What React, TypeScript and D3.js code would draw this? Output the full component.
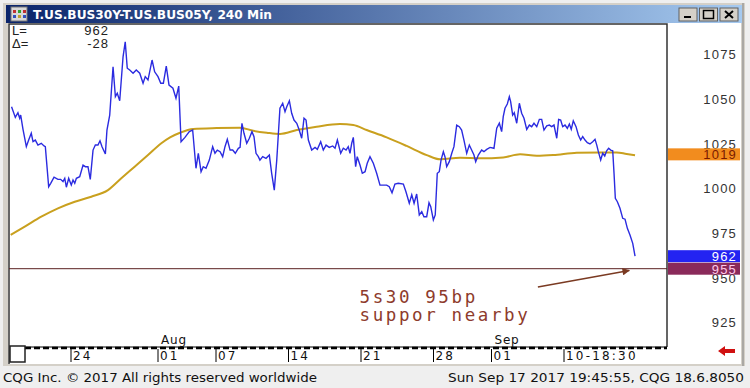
import React, { useEffect, useRef } from "react";
import * as d3 from "d3";

// [trading day since Jul 18, spread in bp]
const spread: [number, number][] = [
  [-0.1, 1045.7], [0.16, 1039.7], [0.34, 1042.3], [0.46, 1039.2], [0.53, 1041], [0.69, 1033], [0.92, 1023.3],
  [1.08, 1027], [1.26, 1030.8], [1.38, 1026.1], [1.54, 1027], [1.72, 1024.2], [1.95, 1025.2], [2.14, 1023.7],
  [2.23, 1023.3], [2.46, 1000.9], [2.6, 1002.8], [2.83, 1006.2], [3.1, 1005], [3.29, 1005], [3.45, 1003.7],
  [3.57, 1005.6], [3.68, 1000.6], [3.84, 1005.6], [4.02, 1001.8], [4.14, 1004.6], [4.26, 1002.8], [4.37, 1005.6],
  [4.6, 1006.5], [4.83, 1013], [4.99, 1012.1], [5.17, 1012.1], [5.33, 1005], [5.52, 1021.4], [5.68, 1024.2],
  [5.86, 1024.2], [6.0, 1026.6], [6.14, 1023.3], [6.37, 1019.2], [6.48, 1032.6], [6.67, 1041], [6.9, 1068],
  [7.06, 1051.3], [7.19, 1053.2], [7.36, 1049], [7.59, 1073.6], [7.74, 1082], [7.88, 1067.2], [8.05, 1066.2],
  [8.28, 1064.4], [8.5, 1066.2], [8.74, 1064.4], [8.97, 1058.8], [9.12, 1062.5], [9.31, 1060.6], [9.59, 1071.8],
  [9.77, 1065.2], [10.0, 1062.5], [10.19, 1058.8], [10.37, 1058.8], [10.57, 1068.4], [10.76, 1057.8], [11.03, 1056],
  [11.24, 1050.4], [11.43, 1057.2], [11.59, 1026.1], [11.86, 1028.5], [12.16, 1031.7], [12.39, 1032.6], [12.62, 1011.2],
  [12.78, 1019.6], [12.97, 1009.3], [13.12, 1012.1], [13.31, 1011.2], [13.54, 1015.8], [13.77, 1023.3], [13.93, 1019.6],
  [14.09, 1021.4], [14.28, 1020.5], [14.46, 1017.7], [14.62, 1023.3], [14.78, 1027.4], [14.97, 1021.4], [15.15, 1021.4],
  [15.33, 1019.6], [15.54, 1022.4], [15.66, 1022.9], [15.79, 1036.4], [15.93, 1030.8], [16.12, 1025.2], [16.3, 1028],
  [16.48, 1031.7], [16.62, 1028.9], [16.76, 1019.6], [16.92, 1017.7], [17.03, 1015.8], [17.22, 1017.7], [17.45, 1016.8],
  [17.68, 1018.6], [17.84, 1008.4], [18.02, 999], [18.19, 1015.8], [18.41, 1044.8], [18.6, 1047.6], [18.76, 1042.9],
  [18.88, 1045.7], [19.06, 1049], [19.22, 1042], [19.38, 1038.2], [19.57, 1036.4], [19.74, 1032.6], [19.91, 1028],
  [20.07, 1039.2], [20.21, 1038.2], [20.37, 1027], [20.6, 1021.4], [20.83, 1022.9], [20.99, 1021.8], [21.22, 1026.1],
  [21.4, 1021.4], [21.59, 1024.2], [21.81, 1022.9], [22.05, 1023.7], [22.21, 1022.4], [22.37, 1027], [22.6, 1019.6],
  [22.78, 1022.4], [22.97, 1021.4], [23.12, 1023.3], [23.24, 1019.6], [23.36, 1025.2], [23.47, 1028.5], [23.63, 1012.1],
  [23.74, 1017.7], [23.93, 1013], [24.09, 1008.4], [24.28, 1009.3], [24.43, 1014], [24.62, 1017.7], [24.85, 1014],
  [25.08, 1008.4], [25.31, 1001.8], [25.77, 1001.8], [25.95, 1000.9], [26.14, 997.5], [26.34, 1002.4], [26.57, 1002.8],
  [26.92, 1002.4], [27.1, 998.1], [27.33, 991.6], [27.5, 996.3], [27.66, 991.6], [27.84, 996.8], [28.02, 985.1],
  [28.19, 986.9], [28.34, 984.1], [28.53, 984.1], [28.69, 991.9], [28.81, 989.7], [28.99, 982.3], [29.12, 985.1],
  [29.26, 1008.4], [29.4, 1009.3], [29.52, 1015.8], [29.68, 1020.5], [29.79, 1017.7], [29.91, 1012.1], [30.09, 1014.9],
  [30.26, 1019.6], [30.41, 1023.3], [30.6, 1035.4], [30.78, 1034.5], [30.94, 1032.6], [31.1, 1027], [31.29, 1019.6],
  [31.47, 1024.2], [31.63, 1021.4], [31.79, 1018.6], [31.91, 1014.9], [32.09, 1018.6], [32.32, 1021.4], [32.48, 1020.5],
  [32.67, 1021.8], [32.9, 1022.9], [33.17, 1022.4], [33.36, 1033.6], [33.54, 1036.4], [33.7, 1031.7], [33.81, 1040.1],
  [33.93, 1044.8], [34.09, 1047.2], [34.23, 1051.3], [34.32, 1048.5], [34.46, 1041], [34.57, 1042.3], [34.74, 1036.4],
  [34.92, 1047.6], [35.08, 1042], [35.24, 1039.2], [35.43, 1033], [35.61, 1035.4], [35.77, 1034.5], [35.93, 1036.4],
  [36.12, 1034.5], [36.3, 1038.6], [36.46, 1038.6], [36.62, 1032.6], [36.81, 1034.9], [36.99, 1035.4], [37.15, 1034.5],
  [37.31, 1035.4], [37.5, 1028], [37.63, 1038.6], [37.77, 1038.2], [37.91, 1034.5], [38.07, 1035.4], [38.23, 1033.6],
  [38.37, 1036], [38.5, 1033], [38.64, 1037.8], [38.83, 1034.5], [38.99, 1029.8], [39.15, 1027], [39.29, 1028.9],
  [39.45, 1027], [39.61, 1025.5], [39.79, 1024.8], [39.98, 1026.1], [40.14, 1027.4], [40.26, 1024.2], [40.37, 1020.5],
  [40.53, 1015.8], [40.67, 1019.6], [40.81, 1018.1], [40.94, 1021], [41.08, 1022.4], [41.22, 1021.4], [41.36, 1021],
  [41.45, 1008.4], [41.54, 994.4], [41.68, 992.5], [41.86, 988.8], [42.05, 983.2], [42.21, 982.7], [42.37, 977.6],
  [42.55, 973.9], [42.74, 969.2], [42.9, 962]
];

// moving average
const avg: [number, number][] = [
  [-0.16, 973.9], [0.81, 978.5], [1.95, 984.1], [3.1, 988.8], [4.26, 992.5], [5.4, 995.3], [6.55, 999],
  [7.47, 1005.6], [8.39, 1012.1], [9.31, 1018.6], [10.23, 1025.2], [10.83, 1028.5], [11.52, 1031.1], [12.43, 1033.2],
  [14.05, 1033.7], [15.66, 1033.9], [16.57, 1032.2], [17.5, 1031.1], [18.41, 1030.4], [19.57, 1032.6], [20.94, 1034.5],
  [22.55, 1036], [23.47, 1035.4], [24.39, 1032.6], [25.77, 1028.5], [27.15, 1023.7], [28.53, 1018.6], [29.45, 1016.2],
  [30.83, 1017.1], [32.21, 1016.8], [33.81, 1017.3], [34.97, 1019], [36.12, 1018.2], [37.26, 1018.6], [38.88, 1019.9],
  [40.48, 1020.1], [41.63, 1020.1], [42.32, 1019.2], [42.9, 1018.5]
];

const priceTicks = [925, 950, 975, 1000, 1025, 1050, 1075];
const dateTicks = [4, 10, 14, 19, 24, 29, 33, 38];
const dateLabels = ["24", "01", "07", "14", "21", "28", "01", "10-18:30"];
const monthDays = [10, 33];
const monthLabels = ["Aug", "Sep"];
const supportLevel = 955;
const lastValues = [1019, 962, 955];
const lastColors = ["#f28c1e", "#2323f2", "#8a2a5a"];
const lastText = ["#7a1a00", "#ffffff", "#ffc8e8"];

const W = 750;
const H = 388;

export default function App() {
  const ref = useRef<SVGSVGElement>(null);

  useEffect(() => {
    const svg = d3.select(ref.current);
    svg.selectAll("*").remove();

    const plot = { left: 9, top: 24, right: 667, bottom: 347 };
    const x = d3.scaleLinear().domain([0, 44]).range([13, 13 + 44 * 14.5]);
    const y = d3.scaleLinear().domain([1000, 1075]).range([188.3, 54.3]);

    // window frame
    svg.append("rect").attr("width", W).attr("height", H).attr("fill", "#efefef");
    svg.append("rect").attr("x", 3).attr("y", 3).attr("width", 742).attr("height", 363).attr("fill", "#d4d0c8");
    svg.append("rect").attr("x", 8).attr("y", 23).attr("width", 733).attr("height", 341).attr("fill", "#fff");
    svg.append("line").attr("x1", 743).attr("x2", 743).attr("y1", 3).attr("y2", 366).attr("stroke", "#808080");

    const defs = svg.append("defs");
    const grad = defs.append("linearGradient").attr("id", "tb");
    grad.append("stop").attr("offset", "0%").attr("stop-color", "#0a246a");
    grad.append("stop").attr("offset", "100%").attr("stop-color", "#a6caf0");
    svg.append("rect").attr("x", 6).attr("y", 5).attr("width", 736).attr("height", 18).attr("fill", "url(#tb)");

    // title icon
    const icon = svg.append("g").attr("transform", "translate(11,7)");
    icon.append("rect").attr("width", 16).attr("height", 14).attr("fill", "#d8d8d8").attr("stroke", "#777");
    [[2, 3, "#c03030"], [7, 3, "#30a030"], [12, 3, "#c03030"], [2, 8, "#3050c0"], [7, 8, "#c0a030"], [12, 8, "#3050c0"]].forEach(
      ([a, b, c]) => {
        icon.append("rect").attr("x", a).attr("y", b).attr("width", 3).attr("height", 3).attr("fill", c as string);
      }
    );
    svg
      .append("text")
      .attr("x", 33)
      .attr("y", 19)
      .attr("fill", "#fff")
      .attr("font-family", "DejaVu Sans")
      .attr("font-weight", "bold")
      .attr("font-size", 11.5)
      .attr("textLength", 239)
      .attr("lengthAdjust", "spacingAndGlyphs")
      .text("T.US.BUS30Y-T.US.BUS05Y, 240 Min");

    // window buttons
    ["_", "□", "×"].forEach((s, i) => {
      const bx = 679 + i * 20.5;
      svg.append("rect").attr("x", bx).attr("y", 8).attr("width", 18).attr("height", 13)
        .attr("fill", "#d4d0c8").attr("stroke", "#606060");
      if (i === 0) {
        svg.append("rect").attr("x", bx + 5).attr("y", 16).attr("width", 7).attr("height", 2).attr("fill", "#000");
      } else if (i === 1) {
        svg.append("rect").attr("x", bx + 4).attr("y", 10.5).attr("width", 10).attr("height", 8)
          .attr("fill", "none").attr("stroke", "#000").attr("stroke-width", 1.5);
      } else {
        svg.append("path").attr("d", `M${bx + 5},11L${bx + 13},18M${bx + 13},11L${bx + 5},18`)
          .attr("stroke", "#000").attr("stroke-width", 2);
      }
    });

    // plot frame
    svg.append("path")
      .attr("d", `M${plot.left},${H - 24}V${plot.top}H${plot.right}V${plot.bottom}`)
      .attr("fill", "none").attr("stroke", "#333").attr("stroke-width", 1.5);

    // price axis labels
    svg.append("g")
      .selectAll("text")
      .data(priceTicks)
      .enter()
      .append("text")
      .attr("x", 737)
      .attr("y", d => y(d) + 5)
      .attr("text-anchor", "end")
      .attr("font-family", "Liberation Sans")
      .attr("font-size", 13)
      .attr("letter-spacing", 1.2)
      .attr("fill", "#333")
      .text(d => d);

    // readout
    const ro = svg.append("g").attr("font-family", "Liberation Sans").attr("font-size", 13).attr("fill", "#222");
    ro.append("text").attr("x", 12).attr("y", 35).text("L=");
    ro.append("text").attr("x", 12).attr("y", 48).text("Δ=");
    ro.append("text").attr("x", 109).attr("y", 35).attr("text-anchor", "end").attr("letter-spacing", 1).text("962");
    ro.append("text").attr("x", 109).attr("y", 48).attr("text-anchor", "end").attr("letter-spacing", 1).text("-28");

    const line = d3.line<[number, number]>().x(d => x(d[0])).y(d => y(d[1]));

    svg.append("path")
      .attr("d", line.curve(d3.curveMonotoneX)(avg) as string)
      .attr("fill", "none").attr("stroke", "#c9a01e").attr("stroke-width", 2);

    svg.append("path")
      .attr("d", line.curve(d3.curveLinear)(spread) as string)
      .attr("fill", "none").attr("stroke", "#2b2be0").attr("stroke-width", 1.4);

    // support line
    svg.append("line")
      .attr("x1", plot.left).attr("x2", plot.right)
      .attr("y1", y(supportLevel)).attr("y2", y(supportLevel))
      .attr("stroke", "#5a2020").attr("stroke-width", 1);

    // last value boxes
    lastValues.forEach((v, i) => {
      svg.append("rect").attr("x", 668).attr("y", y(v) - 6).attr("width", 72).attr("height", 12).attr("fill", lastColors[i]);
      svg.append("text")
        .attr("x", 737).attr("y", y(v) + 5)
        .attr("text-anchor", "end")
        .attr("font-family", "Liberation Sans")
        .attr("font-size", 13)
        .attr("letter-spacing", 1.2)
        .attr("fill", lastText[i])
        .text(v);
    });

    // annotation
    defs.append("marker").attr("id", "ah").attr("viewBox", "0 0 10 10").attr("refX", 9).attr("refY", 5)
      .attr("markerWidth", 7).attr("markerHeight", 5).attr("orient", "auto")
      .append("path").attr("d", "M0,0L10,5L0,10z").attr("fill", "#7a3a22");
    svg.append("line")
      .attr("x1", x(36.2)).attr("y1", y(944.8))
      .attr("x2", x(42.5)).attr("y2", y(954))
      .attr("stroke", "#7a3a22").attr("stroke-width", 1.5).attr("marker-end", "url(#ah)");
    const note = svg.append("g").attr("font-family", "DejaVu Sans Mono").attr("font-size", 17.5).attr("fill", "#8e3b2c")
      .attr("letter-spacing", 2.6);
    note.append("text").attr("x", x(23.9)).attr("y", y(936)).text("5s30 95bp");
    note.append("text").attr("x", x(23.9)).attr("y", y(926)).text("suppor nearby");

    // date axis
    svg.append("line").attr("x1", 25).attr("x2", plot.right).attr("y1", plot.bottom).attr("y2", plot.bottom)
      .attr("stroke", "#000").attr("stroke-width", 1);
    svg.append("line").attr("x1", 25).attr("x2", plot.right).attr("y1", plot.bottom + 1).attr("y2", plot.bottom + 1)
      .attr("stroke", "#000").attr("stroke-width", 2.5).attr("stroke-dasharray", "6,3");

    const ax = svg.append("g").attr("font-family", "DejaVu Sans").attr("font-size", 12).attr("fill", "#111");
    dateTicks.forEach((d, i) => {
      ax.append("line").attr("x1", x(d)).attr("x2", x(d)).attr("y1", 349).attr("y2", 362).attr("stroke", "#000");
      ax.append("text").attr("x", x(d) + 2).attr("y", 360).attr("letter-spacing", 2.2).text(dateLabels[i]);
    });
    monthDays.forEach((d, i) => {
      ax.append("text").attr("x", x(d) + 3).attr("y", 344).attr("letter-spacing", 0.8).text(monthLabels[i]);
    });

    // corner box and scroll arrow
    svg.append("rect").attr("x", 10).attr("y", 346).attr("width", 15).attr("height", 16)
      .attr("fill", "#fff").attr("stroke", "#222").attr("stroke-width", 1.5);
    svg.append("path").attr("d", "M718,351L725,346V349H735V353H725V356Z").attr("fill", "#d01010");

    // footer
    const ft = svg.append("g").attr("font-family", "DejaVu Sans").attr("font-size", 12.5).attr("fill", "#111");
    ft.append("text").attr("x", 3).attr("y", 382).attr("textLength", 314).attr("lengthAdjust", "spacingAndGlyphs")
      .text("CQG Inc. © 2017 All rights reserved worldwide");
    ft.append("text").attr("x", 448).attr("y", 382).attr("textLength", 296).attr("lengthAdjust", "spacingAndGlyphs")
      .text("Sun Sep 17 2017 19:45:55, CQG 18.6.8050");
  }, []);

  return (
    <svg
      ref={ref}
      width={W}
      height={H}
      style={{ position: "absolute", left: 0, top: 0, display: "block" }}
    />
  );
}
